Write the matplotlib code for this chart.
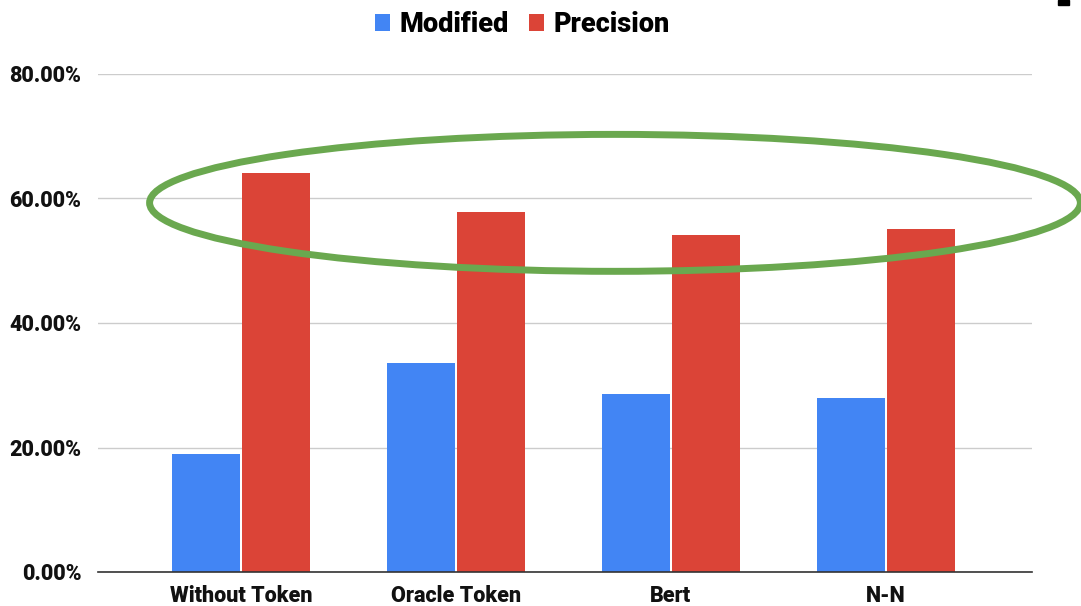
import numpy as np
import matplotlib.pyplot as plt
from matplotlib.patches import Ellipse, Rectangle
from matplotlib.ticker import FuncFormatter

plt.rcParams['font.family'] = ['Roboto', 'DejaVu Sans']
plt.rcParams['font.weight'] = 'black'

categories = ['Without Token', 'Oracle Token', 'Bert', 'N-N']
modified = [19.0, 33.6, 28.6, 28.0]
precision = [64.1, 57.8, 54.2, 55.1]

blue = '#4285f4'
red = '#db4437'

fig = plt.figure(figsize=(10.81, 6.06), dpi=100)
ax = fig.add_axes([98 / 1081, 1 - 572 / 606, (1032 - 98) / 1081, (572 - 74) / 606])

x = np.arange(len(categories))
w = 0.316
ax.bar(x - w / 2 - 0.005, modified, w, color=blue, label='Modified', zorder=3)
ax.bar(x + w / 2 + 0.005, precision, w, color=red, label='Precision', zorder=3)

ax.set_xlim(-0.665, 3.68)
ax.set_ylim(0, 80)
ax.set_yticks([0, 20, 40, 60, 80])
ax.yaxis.set_major_formatter(FuncFormatter(lambda v, p: '%.2f%%' % v))
ax.set_xticks(x)
ax.set_xticklabels(categories)
ax.tick_params(axis='both', length=0, labelsize=15.5, colors='#111111')
ax.tick_params(axis='y', pad=12)
ax.tick_params(axis='x', pad=9)
ax.grid(axis='y', color='#cccccc', linewidth=1, zorder=0)
for s in ['top', 'right', 'left']:
    ax.spines[s].set_visible(False)
ax.spines['bottom'].set_color('#333333')
ax.spines['bottom'].set_linewidth(1.2)
ax.spines['bottom'].set_zorder(4)

# highlight around the precision bars
ell = Ellipse((1.74, 59.3), 4.33, 22, fill=False, edgecolor='#6aa84f',
              linewidth=5, clip_on=False, zorder=5)
ax.add_patch(ell)

fig.legend(loc='upper center', bbox_to_anchor=(0.4835, 1.022), ncol=2, frameon=False,
           fontsize=19.5, handlelength=0.55, handleheight=0.55, handletextpad=0.35,
           columnspacing=0.75)

fig.patches.append(Rectangle((1058 / 1081, 1 - 5 / 606), 11 / 1081, 5 / 606,
                             transform=fig.transFigure, color='black'))

fig.savefig('out.png', dpi=100)
